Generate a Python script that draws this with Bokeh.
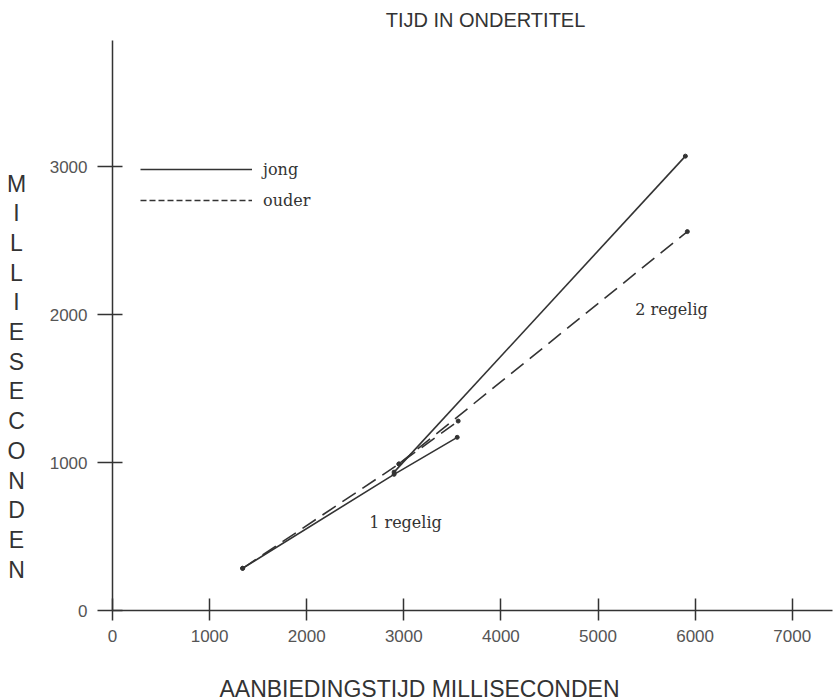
from bokeh.plotting import figure
from bokeh.models import Range1d, FixedTicker, Label, Legend, LegendItem
from bokeh.embed import file_html
from bokeh.resources import INLINE

# ---------------- data ----------------
jong_1_x = [1340, 2900, 3550]
jong_1_y = [285, 920, 1170]
jong_2_x = [2900, 5900]
jong_2_y = [935, 3070]
ouder_1_x = [1340, 2950, 3560]
ouder_1_y = [285, 990, 1280]
ouder_2_x = [2950, 5920]
ouder_2_y = [990, 2560]

x_ticks = [0, 1000, 2000, 3000, 4000, 5000, 6000, 7000]
y_ticks = [0, 1000, 2000, 3000]
series_labels = ["jong", "ouder"]
group_labels = ["1 regelig", "2 regelig"]
title_text = "TIJD IN ONDERTITEL"
x_title = "AANBIEDINGSTIJD MILLISECONDEN"
y_title = "MILLIESECONDEN"

# ---------------- layout (canvas pixels) ----------------
W, H = 837, 700
OX, OY = 112, 610          # where the axes cross
XS, YS = 0.0971, 0.148     # pixels per data unit
AX_RIGHT, AX_TOP = 832, 40  # ends of the axis lines
INK = "#333333"

p = figure(width=W, height=H, output_backend="svg", toolbar_location=None,
           x_range=Range1d(-OX / XS, (W - OX) / XS),
           y_range=Range1d((OY - H) / YS, OY / YS),
           min_border_left=0, min_border_right=0,
           min_border_top=0, min_border_bottom=0)
p.outline_line_color = None
p.grid.visible = False
p.background_fill_color = "white"

for ax in (p.xaxis, p.yaxis):
    ax.fixed_location = 0
    ax.axis_line_color = INK
    ax.axis_line_width = 1.5
    ax.major_tick_line_color = INK
    ax.major_tick_line_width = 1.5
    ax.minor_tick_line_color = None
    ax.major_label_text_font = "Liberation Sans"
    ax.major_label_text_font_size = "17px"
    ax.major_label_text_color = "#555555"

p.xaxis.ticker = FixedTicker(ticks=x_ticks)
p.yaxis.ticker = FixedTicker(ticks=y_ticks)
p.xaxis.bounds = (0, (AX_RIGHT - OX) / XS)
p.yaxis.bounds = (0, (OY - AX_TOP) / YS)
p.xaxis.major_tick_in = 12
p.xaxis.major_tick_out = 10
p.xaxis.major_label_standoff = 9
p.yaxis.major_tick_in = 10
p.yaxis.major_tick_out = 15
p.yaxis.major_label_standoff = 10

# ---------------- series ----------------
solid = dict(line_color=INK, line_width=1.6)
dashed = dict(line_color=INK, line_width=1.6, line_dash="16 8")
p.line(jong_1_x, jong_1_y, **solid)
p.line(jong_2_x, jong_2_y, **solid)
p.line(ouder_1_x, ouder_1_y, **dashed)
p.line(ouder_2_x, ouder_2_y, **dashed)
for xs, ys in ((jong_1_x, jong_1_y), (jong_2_x, jong_2_y),
               (ouder_1_x, ouder_1_y), (ouder_2_x, ouder_2_y)):
    p.scatter(xs, ys, size=4, color=INK)

# legend-only renderers (nothing drawn on the chart), finer dash as in the original
nan = float("nan")
r_j = p.line([nan], [nan], line_color=INK, line_width=1.5)
r_o = p.line([nan], [nan], line_color=INK, line_width=1.5, line_dash="6 3")
legend = Legend(items=[LegendItem(label=series_labels[0], renderers=[r_j]),
                       LegendItem(label=series_labels[1], renderers=[r_o])],
                location=(140, H - 210),
                glyph_width=112, glyph_height=20, label_height=20,
                label_standoff=11, spacing=11, padding=0, margin=0,
                border_line_color=None, background_fill_alpha=0,
                label_text_font="DejaVu Serif", label_text_font_size="16px",
                label_text_color=INK)
p.add_layout(legend)


def page_label(text, X, Y, size, font, color=INK):
    p.add_layout(Label(x=X, y=H - Y, x_units="screen", y_units="screen",
                       text=text, text_align="center", text_baseline="middle",
                       text_font=font, text_font_size=size, text_color=color))


page_label(title_text, 485, 19, "20px", "Liberation Sans")
page_label(x_title, 419, 688, "23px", "Liberation Sans")
for i, ch in enumerate(y_title):
    page_label(ch, 16, 183 + 29.7 * i, "23px", "Liberation Sans")
page_label(group_labels[0], 405, 522, "16px", "DejaVu Serif")
page_label(group_labels[1], 671, 309, "16px", "DejaVu Serif")

open("out.html", "w").write(file_html(p, INLINE))
